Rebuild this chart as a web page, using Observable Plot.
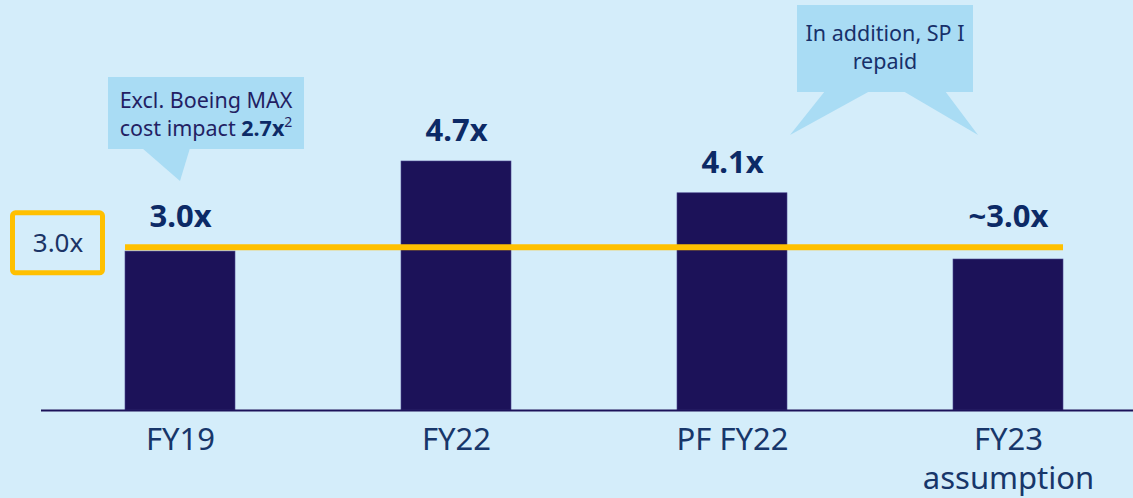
<!DOCTYPE html>
<html><head><meta charset="utf-8">
<script src="https://cdn.jsdelivr.net/npm/d3@7"></script>
<script src="https://cdn.jsdelivr.net/npm/@observablehq/plot@0.6"></script>
<style>
html,body{margin:0;padding:0;background:#d4edfa;}
#chart{position:relative;width:1133px;height:498px;overflow:hidden;}
</style></head><body><div id="chart"></div>
<script>
// ---- data ----
const categories = ["FY19", "FY22", "PF FY22", "FY23\nassumption"];
const values = [3.0, 4.7, 4.1, 2.85];
const valueLabels = ["3.0x", "4.7x", "4.1x", "~3.0x"];
const targetValue = 3.08;
const targetLabel = "3.0x";
const note1Lines = ["Excl. Boeing MAX", "cost impact "];
const note1Bold = "2.7x";
const note1Sup = "2";
const note2Lines = ["In addition, SP I", "repaid"];

const data = categories.map((c, i) => ({category: c, value: values[i], label: valueLabels[i]}));

const navy = "#1c1259";
const textNavy = "#0c2a66";
const yellow = "#ffc000";
const calloutFill = "#a9dcf4";
const bg = "#d4edfa";
const font = "'Noto Sans', sans-serif";

const plot = Plot.plot({
  width: 1133, height: 498,
  marginLeft: 41, marginRight: 0, marginBottom: 88, marginTop: 0,
  style: {background: "transparent", fontFamily: font, color: "#17366a", overflow: "visible"},
  x: {domain: categories, range: [41, 1148], paddingInner: 0.6, paddingOuter: 0.3, align: 0.5, label: null},
  y: {domain: [0, 5], range: [410, 410 - 5 * 52.98], axis: null},
  marks: [
    Plot.barY(data, {x: "category", y: "value", fill: navy, stroke: "#4a4690", strokeWidth: 0.6}),
    Plot.ruleY([0], {stroke: navy, strokeWidth: 2}),
    Plot.ruleY([targetValue], {y: d => d, x1: () => categories[0], x2: () => categories[categories.length - 1], stroke: yellow, strokeWidth: 6}),
    Plot.text(data, {x: "category", y: d => Math.max(d.value, targetValue), text: "label", dy: -20, lineAnchor: "bottom", fontSize: 31, fontWeight: "bold", fill: textNavy}),
    Plot.axisX({tickSize: 0, tickPadding: 11, fontSize: 31, lineHeight: 1.28, label: null, fill: "#17366a"})
  ]
});
document.getElementById("chart").appendChild(plot);

// ---- annotations ----
const svg = d3.select(plot);
const xs = plot.scale("x"), ys = plot.scale("y");
const yT = ys.apply(targetValue);
const g = svg.append("g").attr("font-family", font);

// target label box on left
g.append("rect").attr("x", 12.5).attr("y", yT - 34).attr("width", 90).attr("height", 60)
  .attr("rx", 3).attr("fill", bg).attr("stroke", yellow).attr("stroke-width", 5);
g.append("text").attr("x", 58).attr("y", yT - 4).attr("dy", "0.35em").attr("text-anchor", "middle")
  .attr("font-size", 26).attr("fill", "#1b3466").text(targetLabel);

// callout 1 (points to FY19 bar)
const fy19c = xs.apply(categories[0]) + xs.bandwidth / 2;
g.append("path").attr("d", `M142,148 L190,148 L${fy19c},181 Z`).attr("fill", calloutFill);
g.append("rect").attr("x", 108).attr("y", 77).attr("width", 196).attr("height", 72).attr("fill", calloutFill);
g.append("text").attr("x", 206).attr("y", 108).attr("text-anchor", "middle").attr("font-size", 21.5)
  .attr("fill", "#231f63").text(note1Lines[0]);
const t1 = g.append("text").attr("x", 206).attr("y", 136).attr("text-anchor", "middle").attr("font-size", 21.5).attr("fill", "#231f63");
t1.append("tspan").text(note1Lines[1]);
t1.append("tspan").attr("font-weight", "bold").attr("fill", textNavy).text(note1Bold);
t1.append("tspan").attr("font-size", 14).attr("dy", -9).text(note1Sup);

// callout 2 (two pointers)
g.append("path").attr("d", "M825,91 L870,91 L790,135 Z").attr("fill", calloutFill);
g.append("path").attr("d", "M903,91 L945,91 L978,135 Z").attr("fill", calloutFill);
g.append("rect").attr("x", 797).attr("y", 5).attr("width", 176).attr("height", 87).attr("fill", calloutFill);
g.append("text").attr("x", 885).attr("y", 41).attr("text-anchor", "middle").attr("font-size", 21.5)
  .attr("fill", "#17306a").text(note2Lines[0]);
g.append("text").attr("x", 885).attr("y", 69).attr("text-anchor", "middle").attr("font-size", 21.5)
  .attr("fill", "#17306a").text(note2Lines[1]);
</script>
</body></html>
